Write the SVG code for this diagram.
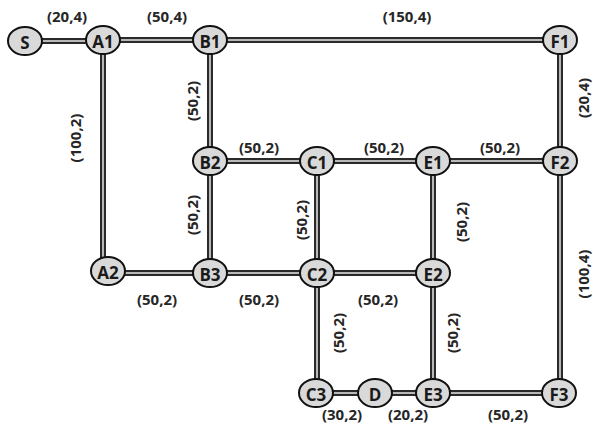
<svg xmlns="http://www.w3.org/2000/svg" width="593" height="425" viewBox="0 0 593 425">
<style>
.o{stroke:#2a2a2a;stroke-width:6;fill:none}
.i{stroke:#b8b8b8;stroke-width:2;fill:none}
.n ellipse{fill:#d9d9d9;stroke:#111;stroke-width:2}
.n text{font-family:"Open Sans","Liberation Sans",sans-serif;font-weight:bold;font-size:17px;fill:#1a1a1a;text-anchor:middle;dominant-baseline:central}
.l{font-family:"Open Sans","Liberation Sans",sans-serif;font-weight:bold;font-size:15px;fill:#262626;text-anchor:middle;dominant-baseline:central}
</style>
<defs>
<path id="e" d="M25,41H103 M103,40H560 M103,40V270 M210,40V273 M210,161H560 M560,40V393 M108,273H433 M317,161V393 M433,161V393 M317,393H560"/>
</defs>
<g id="connectors">
<use href="#e" class="o"/>
<use href="#e" class="i"/>
</g>
<g id="edge-labels">
<text class="l" x="67" y="16">(20,4)</text>
<text class="l" x="167" y="16">(50,4)</text>
<text class="l" x="407" y="16">(150,4)</text>
<text class="l" transform="translate(75,138) rotate(-90)">(100,2)</text>
<text class="l" transform="translate(192,101) rotate(-90)">(50,2)</text>
<text class="l" transform="translate(192,215) rotate(-90)">(50,2)</text>
<text class="l" transform="translate(301,220) rotate(-90)">(50,2)</text>
<text class="l" transform="translate(461,222) rotate(-90)">(50,2)</text>
<text class="l" transform="translate(583,98) rotate(-90)">(20,4)</text>
<text class="l" transform="translate(583,274) rotate(-90)">(100,4)</text>
<text class="l" transform="translate(338,333) rotate(-90)">(50,2)</text>
<text class="l" transform="translate(452,333) rotate(-90)">(50,2)</text>
<text class="l" x="259" y="147">(50,2)</text>
<text class="l" x="384" y="147">(50,2)</text>
<text class="l" x="500" y="147">(50,2)</text>
<text class="l" x="157" y="299">(50,2)</text>
<text class="l" x="259" y="299">(50,2)</text>
<text class="l" x="378" y="299">(50,2)</text>
<text class="l" x="342" y="414">(30,2)</text>
<text class="l" x="408" y="414">(20,2)</text>
<text class="l" x="508" y="414">(50,2)</text>
</g>
<g id="S" class="n"><ellipse cx="25" cy="41" rx="17" ry="14"/><text x="25" y="42">S</text></g>
<g id="A1" class="n"><ellipse cx="103" cy="40" rx="17" ry="14"/><text x="103" y="41">A1</text></g>
<g id="B1" class="n"><ellipse cx="210" cy="40" rx="17" ry="14"/><text x="210" y="41">B1</text></g>
<g id="F1" class="n"><ellipse cx="560" cy="40" rx="17" ry="14"/><text x="560" y="41">F1</text></g>
<g id="B2" class="n"><ellipse cx="210" cy="161" rx="17" ry="14"/><text x="210" y="162">B2</text></g>
<g id="C1" class="n"><ellipse cx="317" cy="161" rx="17" ry="14"/><text x="317" y="162">C1</text></g>
<g id="E1" class="n"><ellipse cx="433" cy="161" rx="17" ry="14"/><text x="433" y="162">E1</text></g>
<g id="F2" class="n"><ellipse cx="560" cy="161" rx="17" ry="14"/><text x="560" y="162">F2</text></g>
<g id="A2" class="n"><ellipse cx="108" cy="271" rx="17" ry="14"/><text x="108" y="272">A2</text></g>
<g id="B3" class="n"><ellipse cx="210" cy="273" rx="17" ry="14"/><text x="210" y="274">B3</text></g>
<g id="C2" class="n"><ellipse cx="317" cy="273" rx="17" ry="14"/><text x="317" y="274">C2</text></g>
<g id="E2" class="n"><ellipse cx="433" cy="273" rx="17" ry="14"/><text x="433" y="274">E2</text></g>
<g id="C3" class="n"><ellipse cx="316" cy="393" rx="17" ry="14"/><text x="316" y="394">C3</text></g>
<g id="D" class="n"><ellipse cx="375" cy="393" rx="17" ry="14"/><text x="375" y="394">D</text></g>
<g id="E3" class="n"><ellipse cx="433" cy="393" rx="17" ry="14"/><text x="433" y="394">E3</text></g>
<g id="F3" class="n"><ellipse cx="559" cy="393" rx="17" ry="14"/><text x="559" y="394">F3</text></g>
</svg>
